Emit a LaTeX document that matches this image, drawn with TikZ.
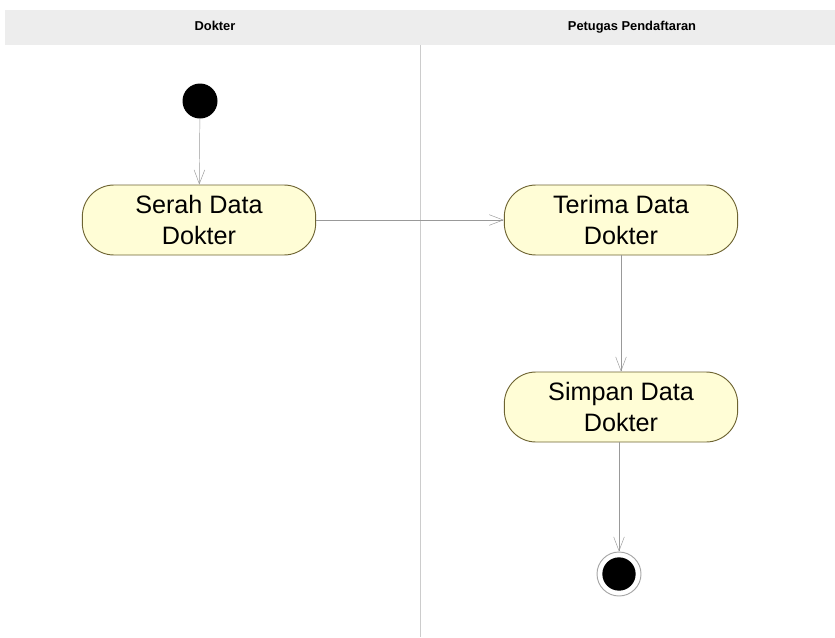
\documentclass[tikz,border=0pt]{standalone}
\usepackage{fontspec}
\setmainfont{Liberation Sans}
\usetikzlibrary{arrows, arrows.meta, shapes}

\definecolor{actfill}{RGB}{255,253,214}
\definecolor{actline}{RGB}{110,100,50}

\begin{document}
\begin{tikzpicture}[x=0.03cm, y=-0.03cm]
    \tikzset{activity/.style = {draw=actline, thick, fill=actfill, rounded corners=0.95cm,
                                minimum width=7cm, minimum height=2.1cm, align=center,
                                font=\fontsize{21.5}{27}\selectfont, inner sep=0pt},
             lane/.style = {font=\fontsize{11}{13}\selectfont\bfseries, text height=8pt, text depth=2pt},
             flow/.style = {draw=gray!80, -{Straight Barb[length=4.2mm, width=3.2mm]}}}
    \useasboundingbox (0, 0) rectangle (835, 637);

    % swimlanes
    \fill [gray!14] (5, 10) rectangle (835, 45);
    \node (laneA) [lane] at (215, 27) {Dokter};
    \node (laneB) [lane] at (632, 27) {Petugas Pendaftaran};
    \draw [gray!40] (420, 45) -- (420, 637);

    % start / end
    \node (start) [circle, fill=black, minimum size=1.05cm, inner sep=0pt] at (200, 101) {};
    \node (stop) [circle, draw=gray!70, thick, minimum size=1.32cm, inner sep=0pt] at (619, 574) {};
    \fill (stop.center) circle (0.5cm);

    % activities
    \node (serah) [activity] at (199, 220) {Serah Data\\Dokter};
    \node (terima) [activity] at (621, 220) {Terima Data\\Dokter};
    \node (simpan) [activity] at (621, 407) {Simpan Data\\Dokter};

    \draw [flow] (start) -- (serah);
    \draw [flow] (serah) -- (terima);
    \draw [flow] (terima) -- (simpan);
    \draw [flow] (simpan.south -| stop) -- (stop);
\end{tikzpicture}
\end{document}
